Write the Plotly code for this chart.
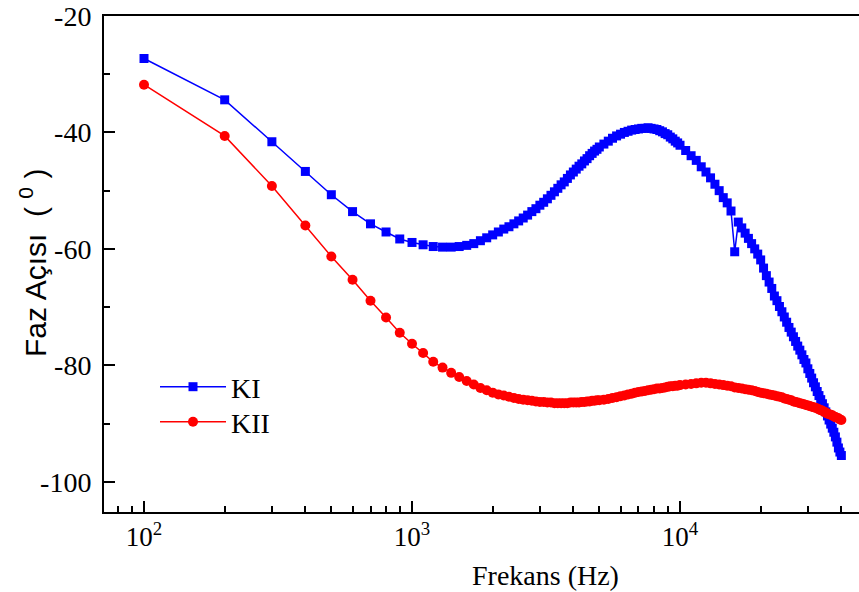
import plotly.graph_objects as go

freq = [100, 200, 300, 400, 500, 600, 700, 800, 900, 1000,
        1100, 1200, 1300, 1400, 1500, 1600, 1700, 1800, 1900, 2000,
        2100, 2200, 2300, 2400, 2500, 2600, 2700, 2800, 2900, 3000,
        3100, 3200, 3300, 3400, 3500, 3600, 3700, 3800, 3900, 4000,
        4100, 4200, 4300, 4400, 4500, 4600, 4700, 4800, 4900, 5000,
        5200, 5400, 5600, 5800, 6000, 6200, 6400, 6600, 6800, 7000,
        7200, 7400, 7600, 7800, 8000, 8200, 8400, 8600, 8800, 9000,
        9200, 9400, 9600, 9800, 10000,
        10500, 11000, 11500, 12000, 12500, 13000, 13500, 14000, 14500, 15000,
        15500, 16000, 16500, 17000, 17500, 18000, 18500, 19000, 19500, 20000,
        20500, 21000, 21500, 22000, 22500, 23000, 23500, 24000, 24500, 25000,
        25500, 26000, 26500, 27000, 27500, 28000, 28500, 29000, 29500, 30000,
        30500, 31000, 31500, 32000, 32500, 33000, 33500, 34000, 34500, 35000,
        35500, 36000, 36500, 37000, 37500, 38000, 38500, 39000, 39500, 40000]

ki = [-27.3, -34.4, -41.6, -46.7, -50.7, -53.6, -55.7, -57.1, -58.3, -58.9,
      -59.3, -59.6, -59.7, -59.7, -59.6, -59.4, -59.1, -58.6, -58.1, -57.6,
      -57.1, -56.6, -56.2, -55.7, -55.2, -54.7, -54.2, -53.6, -53.1, -52.5,
      -52.0, -51.4, -50.8, -50.2, -49.6, -49.0, -48.5, -47.9, -47.3, -46.8,
      -46.3, -45.8, -45.4, -44.9, -44.5, -44.0, -43.6, -43.2, -42.9, -42.5,
      -42.0, -41.5, -41.0, -40.6, -40.3, -40.0, -39.8, -39.6, -39.5, -39.4,
      -39.3, -39.3, -39.2, -39.3, -39.4, -39.5, -39.7, -39.9, -40.2, -40.4,
      -40.8, -41.1, -41.5, -41.8, -42.2,
      -43.1, -44.0, -44.8, -45.9, -46.8, -47.8, -48.9, -50.0, -51.2, -52.1,
      -53.5, -60.5, -55.4, -56.4, -57.3, -58.2, -59.1, -60.0, -60.9, -61.9,
      -63.3, -64.6, -65.7, -66.8, -68.1, -68.9, -69.9, -70.8, -71.7, -72.6,
      -73.5, -74.3, -75.1, -75.9, -76.7, -77.4, -78.2, -79.0, -79.6, -80.6,
      -81.4, -82.2, -83.0, -83.7, -84.5, -85.2, -85.9, -86.6, -87.3, -88.0,
      -88.7, -89.4, -90.1, -90.8, -91.5, -92.3, -93.2, -94.2, -94.9, -95.5]

kii = [-31.8, -40.6, -49.2, -56.0, -61.3, -65.3, -68.9, -71.8, -74.4, -76.3,
       -77.9, -79.4, -80.4, -81.3, -82.0, -82.7, -83.3, -83.9, -84.3, -84.7,
       -85.0, -85.2, -85.4, -85.6, -85.8, -85.9, -86.0, -86.1, -86.2, -86.3,
       -86.3, -86.4, -86.4, -86.5, -86.5, -86.5, -86.5, -86.5, -86.4, -86.4,
       -86.4, -86.4, -86.3, -86.3, -86.2, -86.2, -86.1, -86.1, -86.0, -86.0,
       -85.9, -85.8, -85.6, -85.5, -85.3, -85.2, -85.0, -84.9, -84.7, -84.6,
       -84.5, -84.4, -84.3, -84.2, -84.1, -84.0, -84.0, -83.9, -83.8, -83.7,
       -83.6, -83.6, -83.5, -83.5, -83.4,
       -83.3, -83.2, -83.1, -83.0, -83.0, -83.1, -83.2, -83.3, -83.4, -83.5,
       -83.6, -83.8, -83.9, -84.0, -84.1, -84.2, -84.3, -84.4, -84.6, -84.7,
       -84.8, -84.9, -85.0, -85.1, -85.2, -85.3, -85.4, -85.5, -85.7, -85.8,
       -85.9, -86.0, -86.2, -86.3, -86.4, -86.5, -86.6, -86.7, -86.8, -86.9,
       -87.0, -87.1, -87.2, -87.3, -87.4, -87.6, -87.7, -87.8, -88.0, -88.1,
       -88.3, -88.4, -88.5, -88.6, -88.8, -88.9, -89.0, -89.1, -89.3, -89.4]

x_tickvals = [100, 1000, 10000]
x_ticktext = ["10<sup>2</sup>", "10<sup>3</sup>", "10<sup>4</sup>"]
y_tickvals = [-100, -80, -60, -40, -20]
y_ticktext = ["-100", "-80", "-60", "-40", "-20"]

x_minor = [m * 10 ** e for e in (1, 2, 3, 4) for m in range(2, 10)]
y_minor = [-110, -90, -70, -50, -30]

serif = "Liberation Serif"
sans = "Liberation Sans"

L, R, T, B = 104, 859, 16, 512
W, H = 859, 592


def px(x):
    return (x - L) / (R - L)


def py(y):
    return (B - y) / (B - T)


fig = go.Figure()
fig.add_trace(go.Scatter(
    x=freq, y=ki, name="KI", mode="lines+markers", legend="legend",
    line=dict(color="#0000FF", width=1.5),
    marker=dict(symbol="square", size=9, color="#0000FF"),
    cliponaxis=False,
))
fig.add_trace(go.Scatter(
    x=freq, y=kii, name="KII", mode="lines+markers", legend="legend2",
    line=dict(color="#FF0000", width=1.5),
    marker=dict(symbol="circle", size=10, color="#FF0000"),
    cliponaxis=False,
))

leg_common = dict(
    xanchor="left", yanchor="middle",
    font=dict(family=serif, size=28, color="black"),
    bgcolor="rgba(0,0,0,0)", itemwidth=66, borderwidth=0,
)

fig.update_layout(
    width=W, height=H,
    margin=dict(l=L, r=W - R, t=T, b=H - B),
    paper_bgcolor="white", plot_bgcolor="white",
    showlegend=True,
    legend=dict(x=px(155), y=py(387), **leg_common),
    legend2=dict(x=px(155), y=py(422), **leg_common),
    xaxis=dict(
        type="log", range=[1.8507, 4.6679],
        tickmode="array", tickvals=x_tickvals, ticktext=x_ticktext,
        ticks="inside", ticklen=11, tickwidth=2, tickcolor="black",
        showline=True, linewidth=2, linecolor="black", mirror=True,
        showgrid=False, zeroline=False,
        tickfont=dict(family=serif, size=27, color="black"),
        minor=dict(tickmode="array", tickvals=x_minor, ticks="inside",
                   ticklen=6, tickwidth=2, tickcolor="black", showgrid=False),
    ),
    yaxis=dict(
        range=[-105.2, -20],
        tickmode="array", tickvals=y_tickvals, ticktext=y_ticktext,
        ticks="inside", ticklen=11, tickwidth=2, tickcolor="black",
        showline=True, linewidth=2, linecolor="black", mirror=False,
        showgrid=False, zeroline=False, ticklabelstandoff=5,
        tickfont=dict(family=serif, size=28, color="black"),
        minor=dict(tickmode="array", tickvals=y_minor, ticks="inside",
                   ticklen=6, tickwidth=2, tickcolor="black", showgrid=False),
    ),
    annotations=[
        dict(text="Frekans (Hz)", xref="paper", yref="paper",
             x=px(545), y=py(575), xanchor="center", yanchor="middle",
             showarrow=False, font=dict(family=serif, size=28, color="black")),
        dict(text="Faz Açısı  ( <sup>0</sup> )", xref="paper", yref="paper",
             x=px(33), y=py(263), xanchor="center", yanchor="middle",
             textangle=-90, showarrow=False,
             font=dict(family=sans, size=30, color="black")),
    ],
)

fig.write_html("out.html")
